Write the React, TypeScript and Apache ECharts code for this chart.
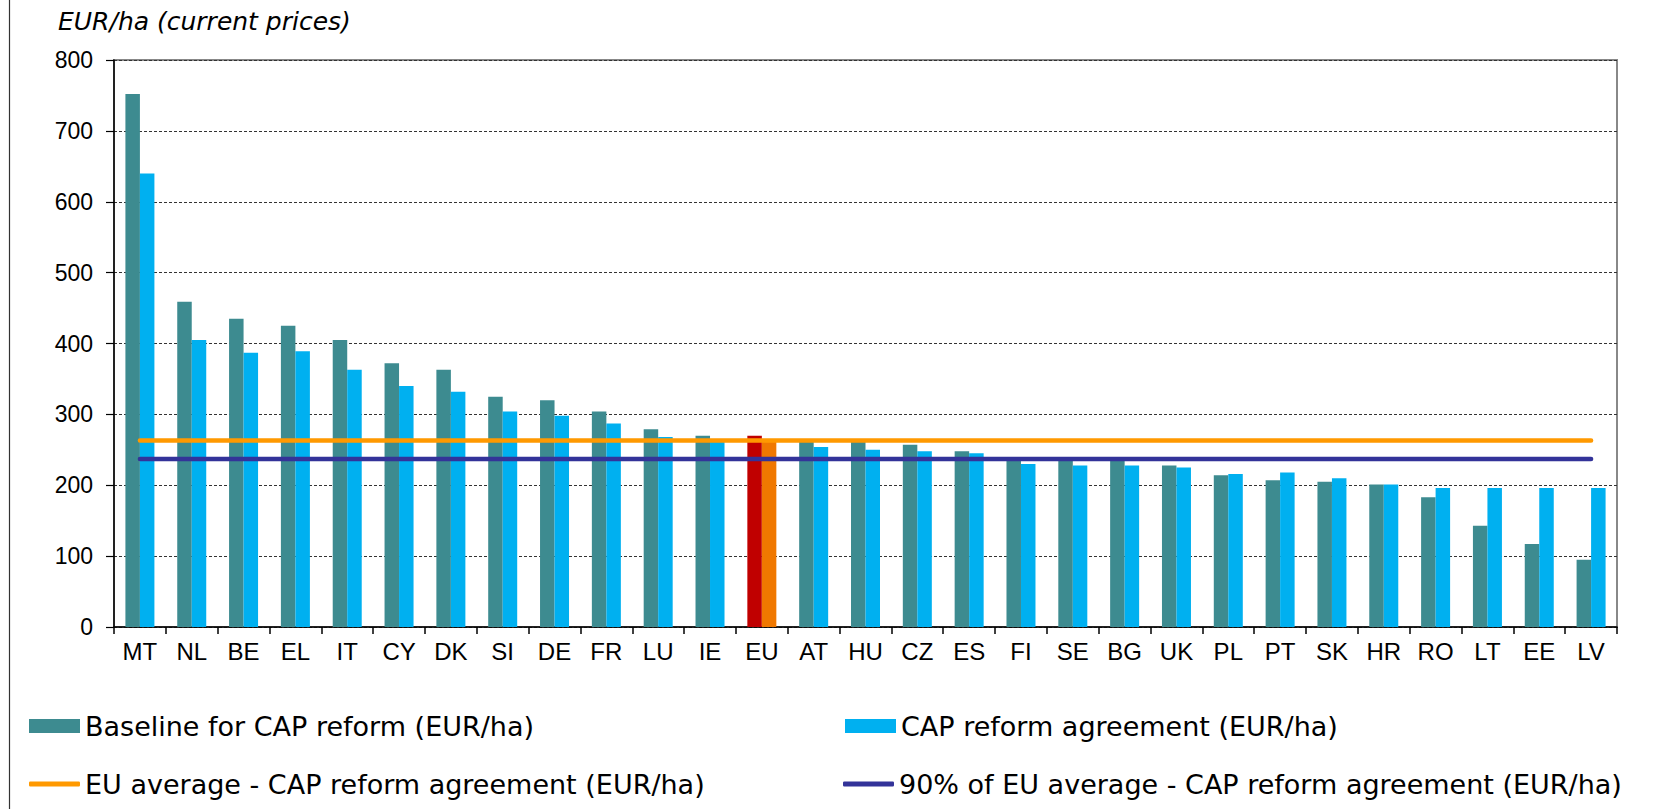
import React, { useEffect, useRef } from "react";
import * as echarts from "echarts";

const categories = ["MT","NL","BE","EL","IT","CY","DK","SI","DE","FR","LU","IE","EU","AT","HU","CZ","ES","FI","SE","BG","UK","PL","PT","SK","HR","RO","LT","EE","LV"];
const baseline = [752,459,435,425,405,372,363,325,320,304,279,270,270,264,261,257,248,238,236,237,228,214,207,205,201,183,143,117,95];
const agreement = [640,405,387,389,363,340,332,304,298,287,268,265,263,254,250,248,245,230,228,228,225,216,218,210,201,196,196,196,196];
const euAverage = 263;
const euAverage90 = 237;
const yTicks = { min: 0, max: 800, interval: 100 };

const seriesNames = [
  "Baseline for CAP reform (EUR/ha)",
  "CAP reform agreement (EUR/ha)",
  "EU average - CAP reform agreement (EUR/ha)",
  "90% of EU average - CAP reform agreement (EUR/ha)",
];
const axisTitle = "EUR/ha (current prices)";

export default function App() {
  const ref = useRef<HTMLDivElement>(null);
  useEffect(() => {
    document.body.style.margin = "0";
    const chart = echarts.init(ref.current!, null, { renderer: "svg" });
    const euIdx = categories.indexOf("EU");
    const baseData = baseline.map((v, i) =>
      i === euIdx ? { value: v, itemStyle: { color: "#C00000" } } : v
    );
    const agrData = agreement.map((v, i) =>
      i === euIdx ? { value: v, itemStyle: { color: "#F07800" } } : v
    );
    const avgLine = categories.map(() => euAverage);
    const avg90Line = categories.map(() => euAverage90);
    const legendText = { fontFamily: "DejaVu Sans", fontSize: 27, lineHeight: 30, color: "#000" };
    const legendCommon = {
      orient: "horizontal",
      padding: 0,
      itemWidth: 51,
      itemHeight: 14,
      textStyle: legendText,
      selectedMode: false,
    };
    chart.setOption({
      animation: false,
      backgroundColor: "#fff",
      grid: {
        left: 114,
        right: 40,
        top: 60,
        bottom: 182,
        show: true,
        borderColor: "#888",
        borderWidth: 2,
        backgroundColor: "transparent",
      },
      graphic: [
        {
          type: "line",
          shape: { x1: 9.5, y1: 0, x2: 9.5, y2: 809 },
          style: { stroke: "#333", lineWidth: 1.2 },
        },
        {
          type: "text",
          x: 58,
          y: 9,
          style: {
            text: axisTitle,
            font: "italic 25px 'DejaVu Sans'",
            fill: "#000",
          },
        },
      ],
      legend: [
        { ...legendCommon, data: [{ name: seriesNames[0], icon: "rect" }], left: 29, top: 711 },
        { ...legendCommon, data: [{ name: seriesNames[1], icon: "rect" }], left: 845, top: 711 },
        { ...legendCommon, itemHeight: 5, data: [{ name: seriesNames[2], icon: "roundRect" }], left: 29, top: 769 },
        { ...legendCommon, itemHeight: 5, data: [{ name: seriesNames[3], icon: "roundRect" }], left: 843, top: 769 },
      ],
      xAxis: {
        type: "category",
        data: categories,
        boundaryGap: true,
        axisLine: { lineStyle: { color: "#000", width: 1.5 } },
        axisTick: { show: true, length: 7, lineStyle: { color: "#000", width: 1.5 } },
        axisLabel: {
          fontFamily: "Liberation Sans",
          fontSize: 24,
          color: "#000",
          margin: 12,
          interval: 0,
        },
      },
      yAxis: {
        type: "value",
        min: yTicks.min,
        max: yTicks.max,
        interval: yTicks.interval,
        axisLine: { show: true, lineStyle: { color: "#000", width: 1.5 } },
        axisTick: { show: true, length: 8, lineStyle: { color: "#000", width: 1.2 } },
        axisLabel: {
          fontFamily: "Liberation Sans",
          fontSize: 23,
          color: "#000",
          margin: 21,
        },
        splitLine: {
          show: true,
          lineStyle: { color: "#333", width: 1, type: [3, 2] },
        },
      },
      series: [
        {
          name: seriesNames[0],
          type: "bar",
          data: baseData,
          barWidth: 14.5,
          barGap: "0%",
          itemStyle: { color: "#3D8B90" },
        },
        {
          name: seriesNames[1],
          type: "bar",
          data: agrData,
          barWidth: 14.5,
          barGap: "0%",
          itemStyle: { color: "#00B0F0" },
        },
        {
          name: seriesNames[2],
          type: "line",
          data: avgLine,
          symbol: "none",
          itemStyle: { color: "#FF9900" },
          lineStyle: { color: "#FF9900", width: 4.5, cap: "round" },
          z: 5,
        },
        {
          name: seriesNames[3],
          type: "line",
          data: avg90Line,
          symbol: "none",
          itemStyle: { color: "#333399" },
          lineStyle: { color: "#333399", width: 4.5, cap: "round" },
          z: 5,
        },
      ],
    });
    return () => chart.dispose();
  }, []);
  return <div ref={ref} style={{ width: 1657, height: 809 }} />;
}
